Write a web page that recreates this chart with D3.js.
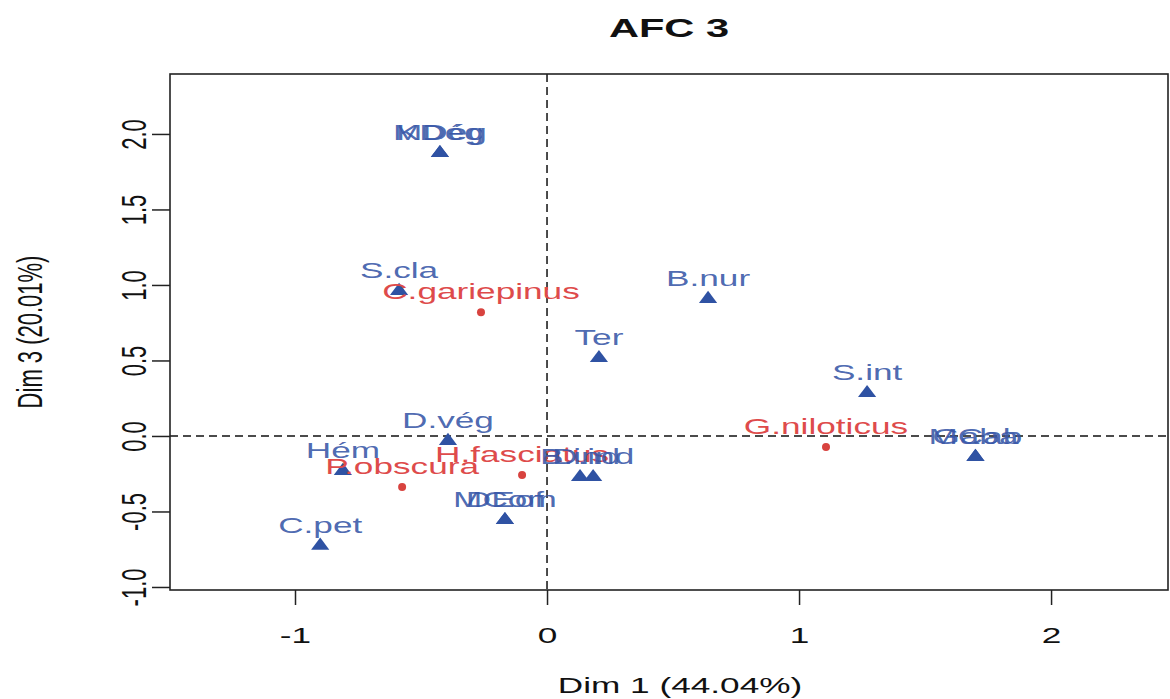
<!DOCTYPE html>
<html>
<head>
<meta charset="utf-8">
<script src="https://cdn.jsdelivr.net/npm/d3@7"></script>
<style>
  body { margin: 0; background: #fff; }
  text { font-family: "Liberation Sans", Arial, sans-serif; }
</style>
</head>
<body>
<div id="chart"></div>
<script>
// Modalities (blue triangles) - some labels sit on top of each other
var modNames = ["MDég", "KDég", "S.cla", "B.nur", "Ter", "S.int", "MCab", "Gaba",
                "B.ind", "D.ind", "MCom", "DEof", "D.vég", "Hém", "C.pet"];
var modX = [-0.425, -0.425, -0.587, 0.639, 0.206, 1.27, 1.70, 1.70,
            0.131, 0.183, -0.167, -0.167, -0.393, -0.81, -0.90];
var modY = [1.88, 1.88, 0.967, 0.914, 0.523, 0.291, -0.132, -0.132,
            -0.265, -0.265, -0.55, -0.55, -0.026, -0.225, -0.72];

// Species (red dots)
var spNames = ["C.gariepinus", "G.niloticus", "H.fasciatus", "P.obscura"];
var spX = [-0.262, 1.107, -0.099, -0.575];
var spY = [0.82, -0.073, -0.258, -0.338];

// Axis ticks
var xTicks = [-1, 0, 1, 2];
var yTicks = [-1, -0.5, 0, 0.5, 1, 1.5, 2];

var W = 1170, H = 699;
var margin = {top: 74, right: 2, bottom: 109, left: 170},
    width = W - margin.left - margin.right,
    height = H - margin.top - margin.bottom;

var blue = "#2f52a3", blueText = "#3857a8";
var red = "#d8433f", redText = "#de4b4b";
var sx = 1.6;   // the picture is stretched sideways
var fs = "22px";

var x = d3.scaleLinear().domain([-1.496, 2.464]).range([0, width]);
var y = d3.scaleLinear().domain([-1.02, 2.397]).range([height, 0]);

var svg = d3.select("#chart").append("svg")
    .attr("width", W)
    .attr("height", H);

var g = svg.append("g")
    .attr("transform", "translate(" + margin.left + "," + margin.top + ")");

// Title
svg.append("text")
    .attr("transform", "translate(" + (margin.left + width / 2) + ",37) scale(1.6,1)")
    .attr("text-anchor", "middle")
    .style("font-weight", "bold")
    .style("font-size", "26px")
    .attr("fill", "#111")
    .text("AFC 3");

// Reference lines at 0
g.append("line")
    .attr("x1", 0).attr("x2", width)
    .attr("y1", y(0)).attr("y2", y(0))
    .attr("stroke", "#111").attr("stroke-width", 1.5)
    .attr("stroke-dasharray", "8,5");
g.append("line")
    .attr("x1", x(0)).attr("x2", x(0))
    .attr("y1", 0).attr("y2", height)
    .attr("stroke", "#111").attr("stroke-width", 1.5)
    .attr("stroke-dasharray", "8,5");

// Axes
var xAxis = g.append("g")
    .attr("transform", "translate(0," + height + ")")
    .call(d3.axisBottom(x).tickValues(xTicks).tickSize(15).tickSizeOuter(0)
        .tickFormat(function (d) { return String(d); }));
xAxis.selectAll("text")
    .attr("y", null).attr("dy", null)
    .attr("transform", "translate(0,53) scale(" + sx + ",1)")
    .attr("fill", "#111")
    .style("font-size", fs);

var yAxis = g.append("g")
    .call(d3.axisLeft(y).tickValues(yTicks).tickSize(18).tickSizeOuter(0)
        .tickFormat(function (d) { return d.toFixed(1); }));
yAxis.selectAll("text")
    .attr("x", null).attr("dy", null)
    .attr("text-anchor", "middle")
    .attr("transform", "translate(-24,0) rotate(-90) scale(1," + sx + ")")
    .attr("fill", "#111")
    .style("font-size", fs);

g.selectAll(".domain").remove();
g.selectAll(".tick line").attr("stroke", "#222").attr("stroke-width", 1.5);

// Plot box
g.append("rect")
    .attr("width", width).attr("height", height)
    .attr("fill", "none").attr("stroke", "#222").attr("stroke-width", 1.6);

// Axis titles
svg.append("text")
    .attr("transform", "translate(680,693) scale(" + sx + ",1)")
    .attr("text-anchor", "middle")
    .style("font-size", fs)
    .attr("fill", "#111")
    .text("Dim 1 (44.04%)");

svg.append("text")
    .attr("transform", "translate(42," + (margin.top + height / 2) + ") rotate(-90) scale(1," + sx + ")")
    .attr("text-anchor", "middle")
    .style("font-size", fs)
    .attr("fill", "#111")
    .text("Dim 3 (20.01%)");

// Species points
var spData = spNames.map(function (n, i) { return {name: n, x: spX[i], y: spY[i]}; });
g.selectAll(".sp")
    .data(spData)
    .enter().append("circle")
    .attr("class", "sp")
    .attr("cx", function (d) { return x(d.x); })
    .attr("cy", function (d) { return y(d.y); })
    .attr("r", 4)
    .attr("fill", red);

// Modality triangles
var modData = modNames.map(function (n, i) { return {name: n, x: modX[i], y: modY[i]}; });
var tri = d3.symbol().type(d3.symbolTriangle).size(85);
g.selectAll(".mod")
    .data(modData)
    .enter().append("path")
    .attr("class", "mod")
    .attr("d", tri)
    .attr("transform", function (d) {
        return "translate(" + x(d.x) + "," + (y(d.y) + 1) + ") scale(1.3,1)";
    })
    .attr("fill", blue);

// Labels (above each point)
g.selectAll(".spLab")
    .data(spData)
    .enter().append("text")
    .attr("class", "spLab")
    .attr("text-anchor", "middle")
    .attr("transform", function (d) {
        return "translate(" + x(d.x) + "," + (y(d.y) - 13) + ") scale(" + sx + ",1)";
    })
    .style("font-size", fs)
    .attr("fill", redText)
    .text(function (d) { return d.name; });

g.selectAll(".modLab")
    .data(modData)
    .enter().append("text")
    .attr("class", "modLab")
    .attr("text-anchor", "middle")
    .attr("transform", function (d) {
        return "translate(" + x(d.x) + "," + (y(d.y) - 12) + ") scale(" + sx + ",1)";
    })
    .style("font-size", fs)
    .attr("fill", blueText)
    .attr("fill-opacity", 0.9)
    .text(function (d) { return d.name; });
</script>
</body>
</html>
